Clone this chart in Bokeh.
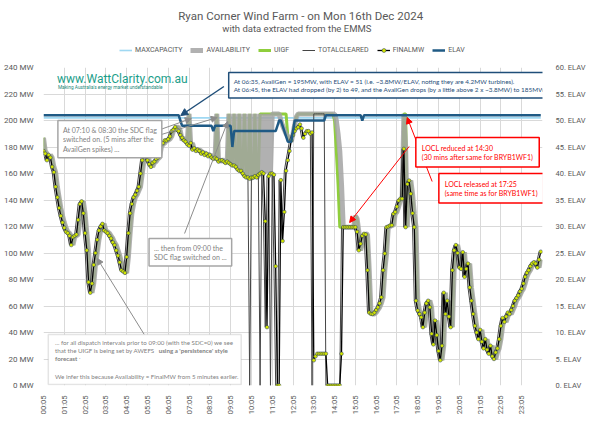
from bokeh.plotting import figure
from bokeh.layouts import column
from bokeh.models import (Range1d, LinearAxis, FixedTicker, Legend, LegendItem, Label,
                          Arrow, NormalHead, BoxAnnotation, ColumnDataSource)
from bokeh.embed import file_html
from bokeh.resources import INLINE
from math import pi

tick_labels = ["00:05", "01:05", "02:05", "03:05", "04:05", "05:05", "06:05", "07:05",
               "08:05", "09:05", "10:05", "11:05", "12:05", "13:05", "14:05", "15:05",
               "16:05", "17:05", "18:05", "19:05", "20:05", "21:05", "22:05", "23:05"]

finalmw = [
    177, 175, 170, 174, 172, 165, 161, 150, 142, 134, 128, 123,
    119, 116, 115, 113, 106, 112, 113, 114, 125, 137, 139, 130,
    115, 102, 78, 70, 77, 91, 100, 110, 117, 120, 122, 117,
    116, 115, 113, 111, 108, 106, 102, 98, 93, 87, 86, 85,
    97, 115, 130, 137, 142, 144, 147, 150, 160, 170, 174, 175,
    170, 167, 165, 168, 169, 171, 172, 180, 182, 183, 185, 185,
    186, 188, 192, 193, 195, 193, 192, 189, 187, 185, 184, 182,
    181, 183, 178, 179, 177, 178, 177, 175, 176, 174, 175, 173,
    174, 172, 171, 172, 171, 169, 170, 170, 169, 168, 169, 168,
    167, 166, 166, 165, 163, 162, 162, 160, 158, 157, 157, 156,
    157, 157, 158, 157, 159, 160, 161, 160, 124, 44, 158, 160,
    160, 159, 90, 0, 0, 155, 109, 131, 162, 170, 177, 185,
    189, 192, 194, 195, 197, 194, 187, 190, 192, 192, 190, 191,
    19, 22, 24, 24, 24, 24, 24, 24, 0, 0, 0, 0,
    0, 0, 0, 0, 24, 119.5, 119.5, 119.5, 119.5, 119.5, 119.5, 119.5,
    119.5, 116, 102, 107, 113, 114.5, 114, 87, 55, 54, 54, 55,
    57, 59, 62, 66.6, 87, 99.6, 119.5, 120, 120.7, 121, 129.6, 131,
    135, 139.6, 141, 141, 178.6, 119.5, 152, 154.7, 144.7, 130, 119.5, 64,
    56.6, 54, 51.5, 44, 55, 62, 64, 59, 39, 31, 49, 38,
    26, 19, 30, 70, 54, 64, 52, 44, 87, 102, 106, 100,
    89, 88, 100.6, 82, 88, 92, 74, 64, 54, 45, 40, 35,
    42, 33, 28, 35, 27, 24, 30, 22, 20, 25, 28, 35,
    45, 51, 48, 52, 55, 54, 57, 60, 64, 66, 68, 71,
    73, 77, 82, 85, 87, 90, 92, 93, 92, 89, 95, 101,
]

availability = [
    187, 177, 175, 170, 174, 172, 165, 161, 150, 142, 134, 128,
    123, 119, 116, 115, 113, 106, 112, 113, 114, 125, 137, 139,
    130, 115, 102, 78, 70, 77, 91, 100, 110, 117, 120, 122,
    117, 116, 115, 113, 111, 108, 106, 102, 98, 93, 87, 86,
    85, 97, 115, 130, 137, 142, 144, 147, 150, 160, 170, 174,
    175, 170, 167, 165, 168, 169, 171, 172, 180, 182, 183, 185,
    185, 186, 188, 192, 193, 195, 195, 192, 185, 187, 185, 184,
    205, 181, 183, 178, 179, 177, 178, 177, 175, 176, 174, 175,
    173, 174, 172, 171, 205, 171, 169, 170, 170, 169, 168, 205,
    168, 167, 205, 166, 165, 205, 163, 162, 205, 160, 158, 205,
    157, 156, 205, 157, 158, 205, 159, 161, 205, 160, 205, 160,
    205, 205, 205, 205, 205, 200, 196, 193, 190, 188, 186, 184,
    190, 197, 203, 205, 205, 205, 205, 205, 205, 205, 205, 205,
    205, 205, 205, 205, 205, 205, 205, 205, 205, 205, 205, 205,
    205, 200, 190, 177, 152, 119.5, 119.5, 119.5, 119.5, 119.5, 119.5, 119.5,
    128, 126, 116, 102, 107, 113, 114.5, 114, 87, 55, 54, 54,
    55, 57, 59, 62, 66.6, 87, 99.6, 119.5, 120, 120.7, 121, 129.6,
    131, 135, 139.6, 141, 205, 180, 119.5, 152, 154.7, 144.7, 130, 119.5,
    64, 56.6, 54, 51.5, 44, 55, 62, 64, 59, 39, 31, 49,
    38, 26, 19, 30, 70, 54, 64, 52, 44, 87, 102, 106,
    100, 89, 88, 100.6, 82, 88, 92, 74, 64, 54, 45, 40,
    35, 42, 33, 28, 35, 27, 24, 30, 22, 20, 25, 28,
    35, 45, 51, 48, 52, 55, 54, 57, 60, 64, 66, 68,
    71, 73, 77, 82, 85, 87, 90, 92, 93, 92, 89, 95,
]

uigf = [
    187, 177, 175, 170, 174, 172, 165, 161, 150, 142, 134, 128,
    123, 119, 116, 115, 113, 106, 112, 113, 114, 125, 137, 139,
    130, 115, 102, 78, 70, 77, 91, 100, 110, 117, 120, 122,
    117, 116, 115, 113, 111, 108, 106, 102, 98, 93, 87, 86,
    85, 97, 115, 130, 137, 142, 144, 147, 150, 160, 170, 174,
    175, 170, 167, 165, 168, 169, 171, 172, 180, 182, 183, 185,
    185, 186, 188, 192, 193, 195, 195, 192, 185, 187, 185, 184,
    205, 181, 183, 178, 179, 177, 178, 177, 175, 176, 174, 175,
    173, 174, 172, 171, 205, 171, 169, 170, 170, 169, 168, 205,
    168, 167, 205, 166, 165, 205, 163, 162, 205, 160, 158, 205,
    157, 156, 205, 157, 158, 205, 205, 205, 205, 205, 205, 205,
    205, 205, 205, 205, 205, 205, 205, 205, 205, 188, 186, 184,
    190, 197, 203, 205, 205, 205, 205, 205, 205, 205, 205, 205,
    205, 205, 205, 205, 205, 205, 205, 205, 205, 205, 205, 205,
    200, 177, 152, 119.5, 119.5, 119.5, 119.5, 119.5, 119.5, 119.5, 119.5, 119.5,
    128, 126, 116, 102, 107, 113, 114.5, 114, 87, 55, 54, 54,
    55, 57, 59, 62, 66.6, 87, 99.6, 119.5, 120, 120.7, 121, 129.6,
    131, 135, 139.6, 141, 205, 205, 119.5, 152, 154.7, 144.7, 130, 119.5,
    64, 56.6, 54, 51.5, 44, 55, 62, 64, 59, 39, 31, 49,
    38, 26, 19, 30, 70, 54, 64, 52, 44, 87, 102, 106,
    100, 89, 88, 100.6, 82, 88, 92, 74, 64, 54, 45, 40,
    35, 42, 33, 28, 35, 27, 24, 30, 22, 20, 25, 28,
    35, 45, 51, 48, 52, 55, 54, 57, 60, 64, 66, 68,
    71, 73, 77, 82, 85, 87, 90, 92, 93, 92, 89, 95,
]

totalcleared = [
    175, 170, 174, 172, 165, 161, 150, 142, 134, 128, 123, 119,
    116, 115, 113, 106, 112, 113, 114, 125, 137, 139, 130, 115,
    102, 78, 70, 77, 91, 100, 110, 117, 120, 122, 117, 116,
    115, 113, 111, 108, 106, 102, 98, 93, 87, 86, 85, 97,
    115, 130, 137, 142, 144, 147, 150, 160, 170, 174, 175, 170,
    167, 165, 168, 169, 171, 172, 180, 182, 183, 185, 185, 186,
    188, 192, 193, 195, 193, 192, 189, 187, 185, 184, 182, 181,
    183, 178, 179, 177, 178, 177, 175, 176, 174, 175, 173, 174,
    172, 171, 172, 171, 169, 170, 170, 169, 168, 169, 168, 167,
    166, 166, 165, 163, 162, 162, 160, 158, 157, 157, 156, 0,
    157, 158, 157, 159, 160, 0, 160, 124, 44, 158, 160, 0,
    159, 90, 0, 0, 155, 109, 131, 162, 170, 177, 185, 189,
    192, 194, 195, 197, 194, 187, 190, 192, 192, 190, 191, 0,
    205, 205, 205, 205, 205, 205, 205, 0, 0, 0, 0, 0,
    0, 0, 0, 0, 119.5, 119.5, 119.5, 119.5, 119.5, 119.5, 119.5, 119.5,
    116, 102, 107, 113, 114.5, 114, 87, 55, 54, 54, 55, 57,
    59, 62, 66.6, 87, 99.6, 119.5, 120, 120.7, 121, 129.6, 131, 135,
    139.6, 141, 141, 178.6, 119.5, 152, 154.7, 144.7, 130, 119.5, 64, 56.6,
    54, 51.5, 44, 55, 62, 64, 59, 39, 31, 49, 38, 26,
    19, 30, 70, 54, 64, 52, 44, 87, 102, 106, 100, 89,
    88, 100.6, 82, 88, 92, 74, 64, 54, 45, 40, 35, 42,
    33, 28, 35, 27, 24, 30, 22, 20, 25, 28, 35, 45,
    51, 48, 52, 55, 54, 57, 60, 64, 66, 68, 71, 73,
    77, 82, 85, 87, 90, 92, 93, 92, 89, 95, 101, 101,
]

elav = ([51] * 79 + [50] + [49] * 18 + [48] + [49] * 10 + [45] + [48] * 25
        + [49, 50, 50, 49, 48, 47, 46, 46, 46, 48, 50] + [50] * 17
        + [51] * 21 + [50] + [51] * 103)

maxcapacity = [202] * 288

interval = list(range(288))

series_names = ["MAXCAPACITY", "AVAILABILITY", "UIGF", "TOTALCLEARED", "FINALMW", "ELAV"]

# ---------------------------------------------------------------- layout
W = 588
HDR_H = 59                             # header strip (title, subtitle, legend)
H = 373                                # main figure
FL, FT, FR, FB = 35, 8, 555, 326       # frame edges inside the main figure (px)
PAGE_X0, PAGE_Y0 = 8, HDR_H            # main figure origin on the page
XMAX, YMAX = 288, 240

C_MAX, C_AV, C_UIGF, C_TC, C_FM, C_ELAV = "#9fd8f2", "#a3a3a3", "#8fce3c", "#454545", "black", "#1f5a85"
GREY_TXT = "#595959"
FONT = "Roboto"
NOTE_FONT = "Lato"
NAN = float("nan")


def X(px):  # page pixel -> data x (annotation placement only)
    return (px - PAGE_X0 - FL) * XMAX / (FR - FL)


def Y(py):  # page pixel -> data y (annotation placement only)
    return (PAGE_Y0 + FB - py) * YMAX / (FB - FT)


# ---------------------------------------------------------------- header
hdr = figure(width=W, height=HDR_H, output_backend="svg", toolbar_location=None,
             x_range=Range1d(0, XMAX), y_range=Range1d(HDR_H, 0),
             min_border_left=FL, min_border_right=W - FR, min_border_top=0, min_border_bottom=0,
             x_axis_type=None, y_axis_type=None)
hdr.outline_line_color = None
hdr.grid.visible = False
hdr.add_layout(Label(x=X(311), y=15, text="Ryan Corner Wind Farm - on Mon 16th Dec 2024",
                     text_align="center", text_baseline="middle", text_font_size="11.5px",
                     text_color=GREY_TXT, text_font=FONT))
hdr.add_layout(Label(x=X(307), y=28, text="with data extracted from the EMMS",
                     text_align="center", text_baseline="middle", text_font_size="9.5px",
                     text_color=GREY_TXT, text_font=FONT))
k_max = hdr.line(x=[NAN], y=[NAN], line_color=C_MAX, line_width=1.6)
k_av = hdr.line(x=[NAN], y=[NAN], line_color=C_AV, line_width=5, line_alpha=0.85)
k_uigf = hdr.line(x=[NAN], y=[NAN], line_color=C_UIGF, line_width=3)
k_tc = hdr.line(x=[NAN], y=[NAN], line_color=C_TC, line_width=1)
k_fm = hdr.line(x=[NAN], y=[NAN], line_color=C_FM, line_width=1.3)
k_fmm = hdr.scatter(x=[NAN], y=[NAN], size=3.6, marker="circle", fill_color="#d4e600",
                    line_color="#22365a", line_width=0.5)
k_elav = hdr.line(x=[NAN], y=[NAN], line_color=C_ELAV, line_width=2.5)
legend = Legend(items=[LegendItem(label=n, renderers=r) for n, r in zip(
    series_names, [[k_max], [k_av], [k_uigf], [k_tc], [k_fm, k_fmm], [k_elav]])],
    orientation="horizontal", location=(76, 4), label_text_font_size="7px",
    label_text_color=GREY_TXT, label_text_font=FONT, glyph_width=13, glyph_height=10,
    label_standoff=3, spacing=8, padding=3, margin=0, border_line_color=None,
    background_fill_alpha=0)
hdr.add_layout(legend)

# ---------------------------------------------------------------- main chart
p = figure(width=W, height=H, output_backend="svg", toolbar_location=None,
           x_range=Range1d(0, XMAX), y_range=Range1d(0, YMAX),
           min_border_left=FL, min_border_right=W - FR,
           min_border_top=FT, min_border_bottom=H - FB)
p.outline_line_color = None

p.yaxis.ticker = FixedTicker(ticks=list(range(0, 241, 20)))
p.yaxis.major_label_overrides = {v: f"{v} MW" for v in range(0, 241, 20)}
p.xaxis.ticker = FixedTicker(ticks=[12 * k for k in range(len(tick_labels))])
p.xaxis.major_label_overrides = {12 * k: t for k, t in enumerate(tick_labels)}
p.xaxis.major_label_orientation = pi / 2
for ax in (p.xaxis[0], p.yaxis[0]):
    ax.axis_line_color = None
    ax.major_tick_line_color = None
    ax.minor_tick_line_color = None
    ax.major_label_text_color = GREY_TXT
    ax.major_label_text_font = FONT
    ax.major_label_standoff = 4
p.yaxis.major_label_text_font_size = "8px"
p.xaxis.major_label_text_font_size = "7.5px"

p.extra_y_ranges = {"elav": Range1d(0, 60)}
rax = LinearAxis(y_range_name="elav", ticker=FixedTicker(ticks=list(range(0, 61, 5))),
                 major_label_overrides={v: f"{v}. ELAV" for v in range(0, 61, 5)})
rax.axis_line_color = None
rax.major_tick_line_color = None
rax.minor_tick_line_color = None
rax.major_label_text_color = GREY_TXT
rax.major_label_text_font = FONT
rax.major_label_text_font_size = "7.5px"
rax.major_label_standoff = 7
p.add_layout(rax, "right")

p.xgrid.grid_line_color = "#d9d9d9"
p.ygrid.grid_line_color = "#d9d9d9"

src = ColumnDataSource(dict(t=interval, maxcap=maxcapacity, avail=availability, uigf=uigf,
                            tc=totalcleared, fm=finalmw, elav=elav))
p.line("t", "maxcap", source=src, line_color=C_MAX, line_width=1.6)
p.line("t", "uigf", source=src, line_color=C_UIGF, line_width=3)
p.line("t", "avail", source=src, line_color=C_AV, line_width=5, line_alpha=0.85)
p.line("t", "tc", source=src, line_color=C_TC, line_width=1)
p.line("t", "fm", source=src, line_color=C_FM, line_width=1.3)
p.scatter("t", "fm", source=src, size=3.6, marker="circle",
          fill_color="#d4e600", line_color="#22365a", line_width=0.5)
p.line("t", "elav", source=src, y_range_name="elav", line_color=C_ELAV, line_width=2.5)

# logo text
p.add_layout(Label(x=X(57), y=Y(78), text="www.WattClarity.com.au", text_align="left",
                   text_baseline="middle", text_font_size="12px", text_color="#1b9e8a",
                   text_font=FONT))
p.add_layout(Label(x=X(58), y=Y(87), text="Making Australia's energy market understandable",
                   text_align="left", text_baseline="middle", text_font_size="4.8px",
                   text_color="#1b8a7a", text_font=FONT))


def note(px, py, text, color, border, size="7.5px", pad=5):
    p.add_layout(Label(x=X(px), y=Y(py), text=text, text_align="left", text_baseline="top",
                       text_font_size=size, text_color=color, text_font=NOTE_FONT,
                       background_fill_color="white", border_line_color=border,
                       border_line_width=1.5, padding=pad))


def arrow(x0, y0, x1, y1, color, size=6, width=1.0):
    p.add_layout(Arrow(x_start=X(x0), y_start=Y(y0), x_end=X(x1), y_end=Y(y1),
                       line_color=color, line_width=width,
                       end=NormalHead(size=size, fill_color=color, line_color=color)))


arrow(231, 86, 186, 115, "#1f4e79", size=7, width=1.5)
arrow(159, 131, 197, 118, "#8c8c8c")
arrow(159, 136, 224, 117, "#8c8c8c")
arrow(190, 233, 235, 121, "#8c8c8c")
arrow(148, 334, 99, 258, "#8c8c8c")
arrow(424, 146, 362, 222, "#ff0000")
arrow(448, 181, 422, 117, "#ff0000")

note(236, 72,
     "At 06:35, AvailGen = 195MW, with ELAV = 51 (i.e. ~3.8MW/ELAV, noting they are 4.2MW turbines).\n"
     "At 06:45, the ELAV had dropped (by 2) to 49, and the AvailGen drops (by a little above 2 x ~3.8MW) to 185MW.",
     "#1f4e79", "#1f4e79", size="6.4px", pad=5)

note(58, 120, "At 07:10 & 08:30 the SDC flag\nswitched on. (5 mins after the\nAvailGen spikes) ...",
     "#7f7f7f", "#a6a6a6", size="7px", pad=5)
note(153, 238, "... then from 09:00 the\nSDC flag switched on ...",
     "#7f7f7f", "#a6a6a6", size="7px", pad=5)

p.add_layout(BoxAnnotation(left=X(48), right=X(249), top=Y(334), bottom=Y(384),
                           fill_color="white", fill_alpha=1.0, line_color="#a6a6a6",
                           line_width=1.5))
for txt, px, py, bold in [
    ("... for all dispatch intervals prior to 09:00 (with the SDC=0) we see", 55, 338, False),
    ("that the UIGF is being set by AWEFS", 55, 346, False),
    ("using a 'persistence' style", 163, 346, True),
    ("forecast", 55, 354, True),
    (".", 80, 354, False),
    ("We infer this because Availability = FinalMW from 5 minutes earlier.", 55, 372, False),
]:
    p.add_layout(Label(x=X(px), y=Y(py), text=txt, text_align="left", text_baseline="top",
                       text_font_size="6.2px", text_color="#7f7f7f", text_font=NOTE_FONT,
                       text_font_style="bold" if bold else "normal"))

note(431, 137, "LOCL reduced at 14:30\n(30 mins after same for BRYB1WF1)",
     "#ff0000", "#ff0000", size="7px", pad=6)
note(455, 173, "LOCL released at 17:25\n(same time as for BRYB1WF1)",
     "#ff0000", "#ff0000", size="7px", pad=6)

layout = column(hdr, p, spacing=0)
open("out.html", "w").write(file_html(layout, INLINE))
